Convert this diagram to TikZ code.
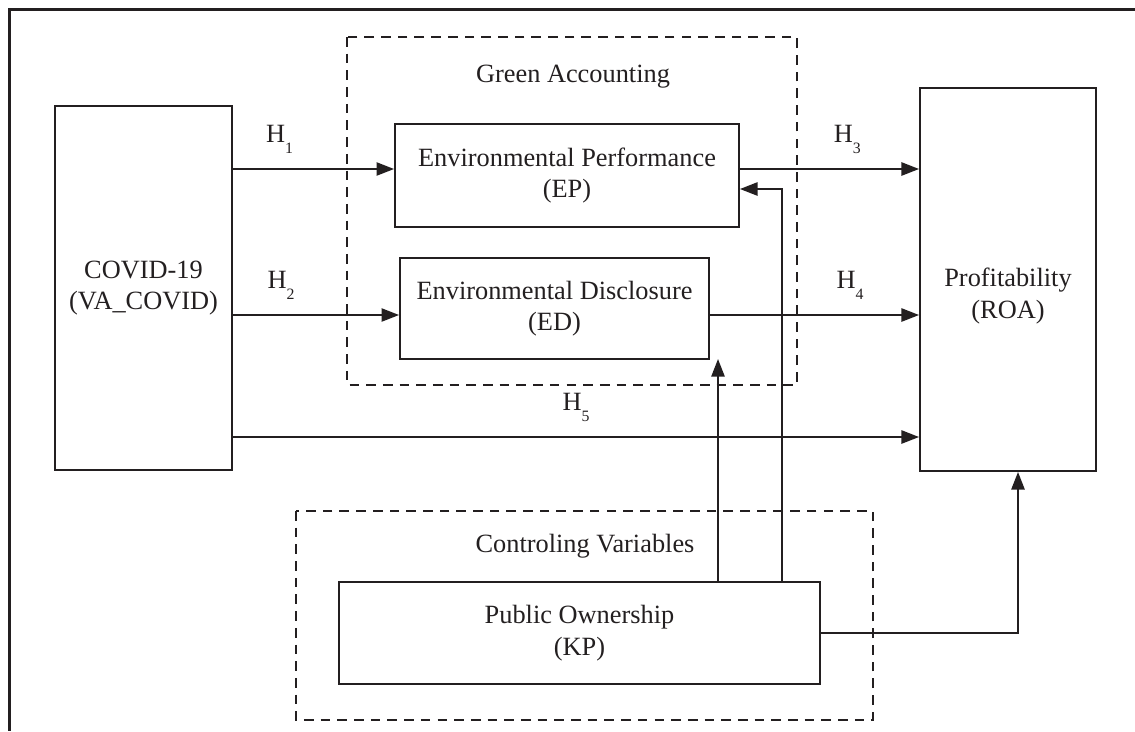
\documentclass[tikz,border=0pt]{standalone}
\usepackage{fontspec}
\setmainfont{Liberation Serif}
\usetikzlibrary{arrows.meta}
\definecolor{tinta}{HTML}{231F20}
\newcommand{\hip}[1]{H\raisebox{-0.9ex}{\fontsize{9}{9}\selectfont #1}}

\begin{document}
\begin{tikzpicture}[x=0.02cm,y=-0.02cm,line width=1.1pt,color=tinta,
  >={Triangle[length=10pt,width=7.5pt]},
  caja/.style={draw,rectangle,align=center,inner sep=0pt,font=\fontsize{15}{18}\selectfont},
  etiq/.style={font=\fontsize{15}{18}\selectfont},
  punteado/.style={dash pattern=on 5.5pt off 4pt}]
  \useasboundingbox (0,0) rectangle (1135,731);
  % marco
  \draw[line width=1.2pt] (1135,9.5) -- (9.5,9.5) -- (9.5,731);
  % grupos punteados
  \draw[punteado] (347,37) rectangle (797,385);
  \node[etiq] (ga) at (573,77) {Green Accounting};
  \draw[punteado] (296,511) rectangle (873,720);
  \node[etiq] (cv) at (585,546) {Controling Variables};
  % variables
  \node[caja,minimum width=3.54cm,minimum height=7.28cm] (covid) at (143.5,288) {COVID-19\\(VA\_COVID)};
  \node[caja,minimum width=3.52cm,minimum height=7.66cm] (roa) at (1008,279.5) {};
  \node[etiq,align=center] (roatxt) at ([yshift=-9.5pt]roa.center) {Profitability\\(ROA)};
  \node[caja,minimum width=6.88cm,minimum height=2.06cm] (ep) at (567,175.5) {Environmental Performance\\(EP)};
  \node[caja,minimum width=6.18cm,minimum height=2.02cm] (ed) at (554.5,308.5) {Environmental Disclosure\\(ED)};
  \node[caja,minimum width=9.62cm,minimum height=2.04cm] (kp) at (579.5,633) {Public Ownership\\(KP)};
  % puntos de llegada
  \coordinate (h5) at (0,437);
  \coordinate (ked) at (718,359);
  \coordinate (kep) at (782,189);
  \coordinate (kroa) at (1018,0);
  % hipotesis
  \draw[->] (covid.east |- ep.west) ++(0,-6.5) -- ([yshift=3.7pt]ep.west) node[pos=.29,above=5pt,etiq]{\hip{1}};
  \draw[->] (covid.east |- ed.west) ++(0,6.5) -- ([yshift=-3.7pt]ed.west) node[pos=.29,above=5pt,etiq]{\hip{2}};
  \draw[->] ([yshift=3.7pt]ep.east) -- ([yshift=3.7pt]ep.east -| roa.west) node[pos=.6,above=5pt,etiq]{\hip{3}};
  \draw[->] ([yshift=-3.7pt]ed.east) -- ([yshift=-3.7pt]ed.east -| roa.west) node[pos=.67,above=5pt,etiq]{\hip{4}};
  \draw[->] (covid.east |- h5) -- (roa.west |- h5) node[pos=.5,above=5pt,etiq]{\hip{5}};
  % variable de control
  \draw[->] (kp.north -| ked) -- (ked);
  \draw[->] (kp.north -| kep) |- (ep.east |- kep);
  \draw[->] (kp.east) -| (roa.south -| kroa);
\end{tikzpicture}
\end{document}
